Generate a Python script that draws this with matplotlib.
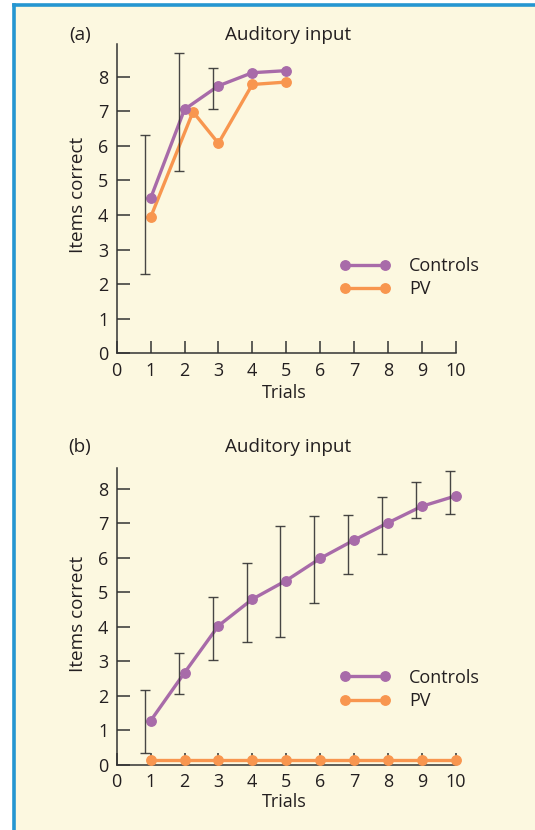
import matplotlib
matplotlib.use("Agg")
import matplotlib.pyplot as plt
from matplotlib.patches import Rectangle
from matplotlib.lines import Line2D

# ---- data -------------------------------------------------------------
trials_a = [1, 2, 3, 4, 5]
controls_a = [4.48, 7.05, 7.73, 8.11, 8.17]
pv_x_a = [1, 2.25, 3, 4, 5]
pv_a = [3.93, 6.98, 6.07, 7.77, 7.84]
err_trials_a = [1, 2, 3]
err_lo_a = [2.30, 5.27, 7.07]
err_hi_a = [6.30, 8.69, 8.25]

trials_b = [1, 2, 3, 4, 5, 6, 7, 8, 9, 10]
controls_b = [1.28, 2.67, 4.03, 4.80, 5.34, 5.98, 6.51, 7.01, 7.49, 7.79]
pv_b = [0.15, 0.15, 0.15, 0.15, 0.15, 0.15, 0.15, 0.15, 0.15, 0.15]
err_lo_b = [0.34, 2.06, 3.04, 3.57, 3.71, 4.69, 5.53, 6.11, 7.15, 7.26]
err_hi_b = [2.17, 3.25, 4.86, 5.85, 6.91, 7.22, 7.25, 7.77, 8.19, 8.52]

x_ticks = list(range(0, 11))
y_ticks = list(range(0, 9))
series_names = ["Controls", "PV"]
title = "Auditory input"
xlabel = "Trials"
ylabel = "Items correct"
panel_labels = ["(a)", "(b)"]

# ---- style --------------------------------------------------------------
PURPLE = "#a86ba9"
ORANGE = "#f8964f"
INK = "#231f20"
BG = "#fcf8e0"
BLUE = "#2596d1"
FONT = "Open Sans"
FS = 13
FS_TITLE = 13.6

plt.rcParams["font.family"] = [FONT, "DejaVu Sans"]
plt.rcParams["text.color"] = INK

W, H = 535, 830
fig = plt.figure(figsize=(W / 100, H / 100), dpi=100)
fig.patch.set_facecolor("white")

# panel background and frame
fig.add_artist(Rectangle((14 / W, 0), 1 - 14 / W, 1 - 5.5 / H,
                         transform=fig.transFigure, facecolor=BG,
                         edgecolor="none", zorder=-10))
fig.add_artist(Line2D([14 / W, 1], [1 - 5.5 / H, 1 - 5.5 / H],
                      transform=fig.transFigure, color=BLUE, lw=2.6))
fig.add_artist(Line2D([14 / W, 14 / W], [0, 1 - 5.5 / H],
                      transform=fig.transFigure, color=BLUE, lw=2.6))


def px_rect(x0, x1, y_bottom, y_top):
    return [x0 / W, 1 - y_bottom / H, (x1 - x0) / W, (y_bottom - y_top) / H]


def style_axes(ax, ytop):
    ax.set_facecolor("none")
    ax.set_xlim(0, 10)
    ax.set_ylim(0, ytop)
    for s in ("top", "right"):
        ax.spines[s].set_visible(False)
    for s in ("left", "bottom"):
        ax.spines[s].set_color("#333333")
        ax.spines[s].set_linewidth(1.1)
    ax.set_xticks(x_ticks)
    ax.set_yticks(y_ticks)
    ax.tick_params(direction="in", length=9, width=1.1, color="#333333",
                   labelsize=FS, labelcolor=INK, pad=6)


def draw_panel(ax, tr, ctrl, pvx, pv, etr, elo, ehi):
    ax.plot(pvx, pv, color=ORANGE, lw=2.4, marker="o", ms=6.8,
            clip_on=False, zorder=3, label=series_names[1])
    ax.plot(tr, ctrl, color=PURPLE, lw=2.4, marker="o", ms=6.8,
            clip_on=False, zorder=4, label=series_names[0])
    ex = [t - 0.17 for t in etr]
    mid = [(lo + hi) / 2 for lo, hi in zip(elo, ehi)]
    half = [(hi - lo) / 2 for lo, hi in zip(elo, ehi)]
    ax.errorbar(ex, mid, yerr=half, fmt="none", ecolor="#333333",
                elinewidth=1.0, capsize=3.5, capthick=1.0, zorder=5,
                alpha=0.9)
    handles, labels = ax.get_legend_handles_labels()
    ax.legend(handles[::-1], labels[::-1], loc="center left",
              bbox_to_anchor=(6.57, 2.19), bbox_transform=ax.transData,
              frameon=False, numpoints=2, handlelength=2.85,
              handletextpad=1.0, labelspacing=0.3, borderpad=0,
              borderaxespad=0, fontsize=FS)


ax_a = fig.add_axes(px_rect(116.7, 455.7, 353.3, 44))
style_axes(ax_a, 8.94)
draw_panel(ax_a, trials_a, controls_a, pv_x_a, pv_a,
           err_trials_a, err_lo_a, err_hi_a)

ax_b = fig.add_axes(px_rect(116.7, 455.7, 765, 468.3))
style_axes(ax_b, 8.59)
draw_panel(ax_b, trials_b, controls_b, trials_b, pv_b,
           trials_b, err_lo_b, err_hi_b)

# titles, panel letters and axis labels
for (ty, xy, yy) in [(35, 393, 195), (446.5, 801.5, 614)]:
    fig.text(288 / W, 1 - ty / H, title, ha="center", va="center",
             fontsize=FS_TITLE)
    fig.text(284 / W, 1 - xy / H, xlabel, ha="center", va="center", fontsize=FS)
    fig.text(78 / W, 1 - yy / H, ylabel, ha="center", va="center",
             rotation=90, fontsize=FS_TITLE)
fig.text(80 / W, 1 - 35 / H, panel_labels[0], ha="center", va="center",
         fontsize=FS_TITLE)
fig.text(80 / W, 1 - 446.5 / H, panel_labels[1], ha="center", va="center",
         fontsize=FS_TITLE)

fig.savefig("out.png", dpi=100, facecolor=fig.get_facecolor())
